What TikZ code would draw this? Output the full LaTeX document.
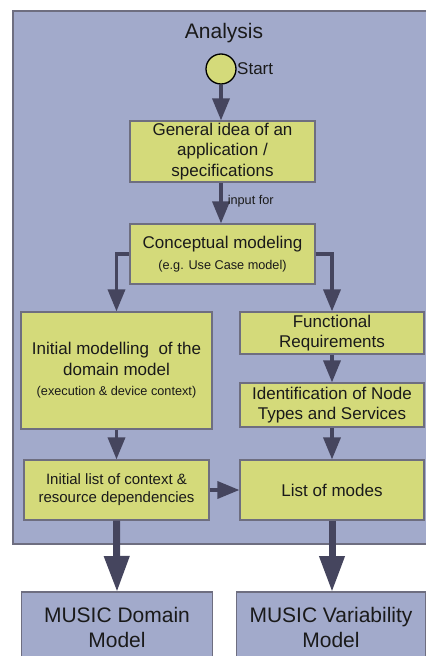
\documentclass[tikz,border=0pt]{standalone}
\usepackage{fontspec}
\setmainfont{Liberation Sans}
\usetikzlibrary{arrows.meta}
\definecolor{framefill}{HTML}{A2AACB}
\definecolor{boxfill}{HTML}{D4DA7A}
\definecolor{arrowcol}{HTML}{45455E}
\definecolor{bordercol}{HTML}{6E6E80}
\definecolor{txt}{HTML}{1A1A1A}
\tikzset{
  procbox/.style={draw=bordercol, line width=1.2pt, fill=boxfill, align=center, inner sep=0pt, text=txt, font=\fontsize{17}{20.5}\selectfont},
  outbox/.style={fill=framefill, inner sep=0pt},
  outtext/.style={align=center, inner sep=0pt, text=txt, font=\fontsize{21}{25}\selectfont},
  edge3/.style={draw=bordercol, line width=1.2pt},
  flow/.style={draw=arrowcol, line width=3.5pt, -{Triangle[length=22pt,width=17pt]}},
  bigflow/.style={draw=arrowcol, line width=7pt, -{Triangle[length=36pt,width=24pt]}},
}
\begin{document}
\begin{tikzpicture}[x=1pt,y=-1pt]
\useasboundingbox (0,0) rectangle (426,656);
% frame (open on the right, where the picture cuts it)
\fill[framefill] (13,11) rectangle (426,544);
\draw[edge3] (426,11) -- (13,11) -- (13,544) -- (426,544);
\node[text=txt, font=\fontsize{21}{25}\selectfont] (title) at (224,33) {Analysis};
% start
\node[circle, draw=black, line width=1.3pt, fill=boxfill, minimum size=30pt, inner sep=0pt] (start) at (221,69) {};
\node[anchor=west, text=txt, inner sep=0pt, font=\fontsize{17}{20}\selectfont] (startlbl) at (237,69) {Start};
% boxes
\node[procbox, minimum width=185pt, minimum height=61pt] (gen) at (222.5,151.5) {General idea of an\\application /\\specifications};
\node[procbox, minimum width=185pt, minimum height=60pt] (concept) at (222.5,254) {Conceptual modeling\\[1pt]{\fontsize{12.7}{15}\selectfont (e.g. Use Case model)}};
\node[procbox, minimum width=191pt, minimum height=117pt] (initmod) at (116.5,370.5) {\fontsize{17}{22}\selectfont Initial modelling~ of the\\domain model\\{\fontsize{12.7}{15}\selectfont (execution \& device context)}};
\node[procbox, minimum width=184pt, minimum height=42pt] (func) at (332,333) {Functional\\Requirements};
\node[procbox, minimum width=184pt, minimum height=44pt] (ident) at (332,405) {Identification of Node\\Types and Services};
\node[procbox, minimum width=185pt, minimum height=60pt, font=\fontsize{15}{18}\selectfont] (initlist) at (116.5,490) {Initial list of context \&\\resource dependencies};
\node[procbox, minimum width=184pt, minimum height=60pt] (modes) at (332,490) {List of modes};
% output boxes (cut by the lower edge of the picture)
\node[outbox, minimum width=190pt, minimum height=64pt, anchor=north] (dom) at (117,592) {};
\draw[edge3] (dom.south west) -- (dom.north west) -- (dom.north east) -- (dom.south east);
\node[outtext] (domtext) at (117,627.5) {MUSIC Domain\\Model};
\node[outbox, minimum width=188pt, minimum height=64pt, anchor=north] (var) at (331,592) {};
\draw[edge3] (var.south west) -- (var.north west) -- (var.north east) -- (var.south east);
\node[outtext] (vartext) at (331,627.5) {MUSIC Variability\\Model};
% connectors
\draw[flow] (start.south) -- (start.south |- gen.north);
\draw[flow] (gen.south -| start) -- node[pos=0.45, right=5pt, text=txt, inner sep=0pt, font=\fontsize{12.7}{15}\selectfont] (inputlbl) {input for} (concept.north -| start);
\draw[flow] (concept.west) -| (initmod.north);
\draw[flow] (concept.east) -| (func.north);
\draw[flow] (initmod.south) -- (initlist.north);
\draw[flow] (func.south) -- (ident.north);
\draw[flow] (ident.south) -- (modes.north);
\draw[flow] (initlist.east) -- (modes.west);
\draw[bigflow] (initlist.south) -- (dom.north);
\draw[bigflow] (modes.south) -- (modes.south |- var.north);
\end{tikzpicture}
\end{document}
